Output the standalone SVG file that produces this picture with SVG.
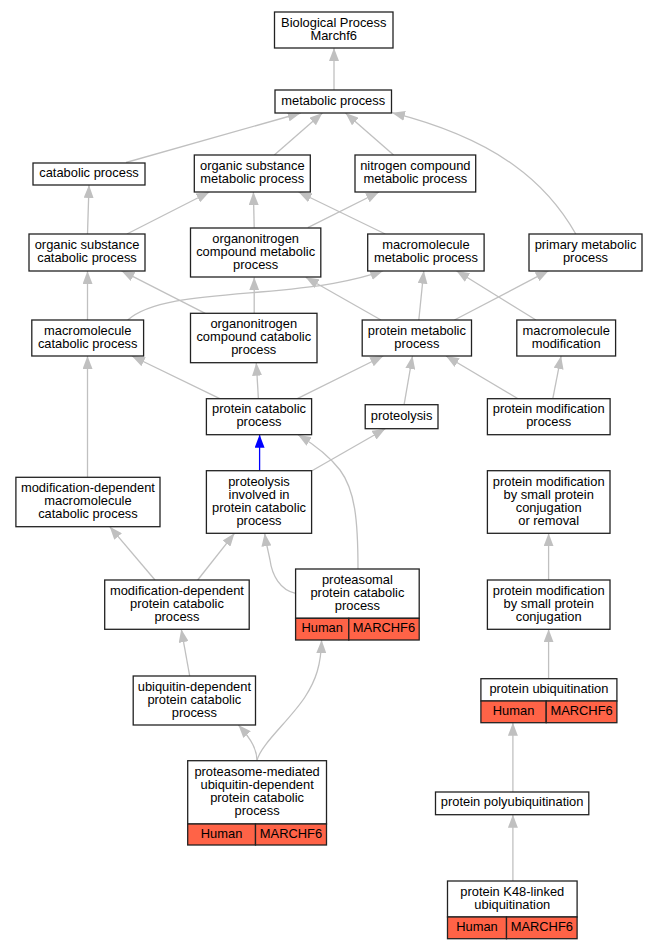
<svg xmlns="http://www.w3.org/2000/svg" width="657" height="949" viewBox="0 0 657 949">
<style>
.n rect{fill:#fff;stroke:#222;stroke-width:1.3}
.n rect.g{fill:#ff6347}
text{font-family:"Liberation Sans",Arial,Helvetica,sans-serif;font-size:12.9px;text-anchor:middle;fill:#000}
.e path{fill:none;stroke:#c0c0c0;stroke-width:1.3;marker-end:url(#a)}
.e path.b{stroke:#0000ff;marker-end:url(#ab)}
</style>
<defs>
<marker id="a" viewBox="0 0 13 10" refX="13" refY="5" markerWidth="13" markerHeight="10" markerUnits="userSpaceOnUse" orient="auto"><path d="M0,0L13,5L0,10z" fill="#c0c0c0"/></marker>
<marker id="ab" viewBox="0 0 13 10" refX="13" refY="5" markerWidth="13" markerHeight="10" markerUnits="userSpaceOnUse" orient="auto"><path d="M0,0L13,5L0,10z" fill="#0000ff"/></marker>
</defs>
<rect width="657" height="949" fill="#fff"/>
<g id="connectors" class="e">
<path d="M334,90L334,48"/>
<path d="M126,162.5L300.7,113"/>
<path d="M274.3,155L322.4,113"/>
<path d="M393.6,155L345.5,113"/>
<path d="M575.8,234C548,185 500,140 392,112.7"/>
<path d="M87.5,234L89,185"/>
<path d="M126.9,234L209.4,192"/>
<path d="M254.2,227.7L253.4,192"/>
<path d="M385.3,234L298.6,192"/>
<path d="M307.8,227.7L379,192"/>
<path d="M87.5,320L87.5,271"/>
<path d="M127.7,320C150,300 200,297 260,292C320,287 355,281 383.2,270.7"/>
<path d="M205.2,313.3L121.4,270.7"/>
<path d="M254.2,313.3L254.2,277.3"/>
<path d="M381,320L305.7,277.3"/>
<path d="M418.8,320L423.8,270.7"/>
<path d="M454.4,320L548.6,270.7"/>
<path d="M536,320L456.4,270.7"/>
<path d="M219.8,398.7L131.9,356"/>
<path d="M258.4,398.7L256.3,362.7"/>
<path d="M297.3,398.7L383.2,356"/>
<path d="M404.1,404.7L412.5,356"/>
<path d="M518,398.7L446,356"/>
<path d="M552.8,398.7L561.1,356"/>
<path d="M87.5,477.3L87.5,356"/>
<path class="b" d="M259.6,470.7L259.6,434.7"/>
<path d="M312,470.7L385.3,428.7"/>
<path d="M358,569C358,520 355,490 340,470C330,457 315,445 298,434.7"/>
<path d="M155,580L109.7,526.7"/>
<path d="M197.7,580L234.5,533.3"/>
<path d="M295.6,593.3C280,590 272,575 270,560C268,550 266,543 264.7,533.3"/>
<path d="M548.6,580L548.6,533.3"/>
<path d="M189.7,676L181.3,629.3"/>
<path d="M548.6,678.7L548.6,629.3"/>
<path d="M257,760.7C257,750 252,740 238.4,725"/>
<path d="M257,760.7C260,745 290,720 305,697C316,680 321,665 321.6,640"/>
<path d="M512.9,792L512.9,722.7"/>
<path d="M512.9,881L512.9,814.7"/>
</g>
<g id="bp" class="n"><rect x="274.5" y="12" width="118.5" height="36"/><text x="333.75" y="26.5">Biological Process</text><text x="333.75" y="39.5">Marchf6</text></g>
<g id="metabolic" class="n"><rect x="275" y="90" width="116.5" height="23"/><text x="333.25" y="104.5">metabolic process</text></g>
<g id="catabolic" class="n"><rect x="33" y="163" width="112" height="22"/><text x="89" y="177">catabolic process</text></g>
<g id="osm" class="n"><rect x="194.3" y="155" width="116" height="37"/><text x="252.3" y="170">organic substance</text><text x="252.3" y="183">metabolic process</text></g>
<g id="ncm" class="n"><rect x="355" y="155" width="120.7" height="37"/><text x="415.35" y="170">nitrogen compound</text><text x="415.35" y="183">metabolic process</text></g>
<g id="osc" class="n"><rect x="29" y="234" width="116" height="37"/><text x="87" y="249">organic substance</text><text x="87" y="262">catabolic process</text></g>
<g id="ocm" class="n"><rect x="190.5" y="228" width="130.3" height="49"/><text x="255.65" y="242.5">organonitrogen</text><text x="255.65" y="255.5">compound metabolic</text><text x="255.65" y="268.5">process</text></g>
<g id="mmp" class="n"><rect x="367.7" y="234" width="116.4" height="37"/><text x="425.9" y="249">macromolecule</text><text x="425.9" y="262">metabolic process</text></g>
<g id="pmp" class="n"><rect x="529" y="234" width="113" height="37"/><text x="585.5" y="249">primary metabolic</text><text x="585.5" y="262">process</text></g>
<g id="mcp" class="n"><rect x="31.8" y="320" width="111.8" height="36"/><text x="87.7" y="334.5">macromolecule</text><text x="87.7" y="347.5">catabolic process</text></g>
<g id="occ" class="n"><rect x="190.5" y="313.3" width="126.5" height="49.4"/><text x="253.75" y="328">organonitrogen</text><text x="253.75" y="341">compound catabolic</text><text x="253.75" y="354">process</text></g>
<g id="prmp" class="n"><rect x="362.2" y="320" width="109.3" height="36"/><text x="416.85" y="334.5">protein metabolic</text><text x="416.85" y="347.5">process</text></g>
<g id="mmod" class="n"><rect x="516.8" y="320" width="98.8" height="36"/><text x="566.2" y="334.5">macromolecule</text><text x="566.2" y="347.5">modification</text></g>
<g id="pcp" class="n"><rect x="206.4" y="398.7" width="105.2" height="36"/><text x="259" y="413.2">protein catabolic</text><text x="259" y="426.2">process</text></g>
<g id="prot" class="n"><rect x="365.2" y="404.7" width="72.8" height="24"/><text x="401.6" y="419.7">proteolysis</text></g>
<g id="pmodp" class="n"><rect x="487.4" y="398.7" width="122.7" height="36"/><text x="548.75" y="413.2">protein modification</text><text x="548.75" y="426.2">process</text></g>
<g id="mdmcp" class="n"><rect x="15.9" y="477.3" width="144.1" height="49.4"/><text x="87.95" y="492">modification-dependent</text><text x="87.95" y="505">macromolecule</text><text x="87.95" y="518">catabolic process</text></g>
<g id="pipcp" class="n"><rect x="206.4" y="470.7" width="105.2" height="62.6"/><text x="259" y="485.5">proteolysis</text><text x="259" y="498.5">involved in</text><text x="259" y="511.5">protein catabolic</text><text x="259" y="524.5">process</text></g>
<g id="pmscr" class="n"><rect x="487.4" y="470.7" width="122.6" height="62.6"/><text x="548.7" y="485.5">protein modification</text><text x="548.7" y="498.5">by small protein</text><text x="548.7" y="511.5">conjugation</text><text x="548.7" y="524.5">or removal</text></g>
<g id="mdpcp" class="n"><rect x="104.7" y="580" width="144.5" height="49.3"/><text x="176.95" y="594.65">modification-dependent</text><text x="176.95" y="607.65">protein catabolic</text><text x="176.95" y="620.65">process</text></g>
<g id="ppcp" class="n"><rect x="295.6" y="569" width="123.6" height="49.3"/><rect class="g" x="295.6" y="618.3" width="53.2" height="21.7"/><rect class="g" x="348.8" y="618.3" width="70.4" height="21.7"/><text x="357.4" y="583.65">proteasomal</text><text x="357.4" y="596.65">protein catabolic</text><text x="357.4" y="609.65">process</text><text x="322.2" y="632.15">Human</text><text x="384" y="632.15">MARCHF6</text></g>
<g id="pmsc" class="n"><rect x="487.4" y="580" width="122.6" height="49.3"/><text x="548.7" y="594.65">protein modification</text><text x="548.7" y="607.65">by small protein</text><text x="548.7" y="620.65">conjugation</text></g>
<g id="udpcp" class="n"><rect x="133.2" y="676" width="122.3" height="49"/><text x="194.35" y="690.5">ubiquitin-dependent</text><text x="194.35" y="703.5">protein catabolic</text><text x="194.35" y="716.5">process</text></g>
<g id="pubq" class="n"><rect x="480.9" y="678.7" width="136" height="22.3"/><rect class="g" x="480.9" y="701" width="65.3" height="21.7"/><rect class="g" x="546.2" y="701" width="70.7" height="21.7"/><text x="548.9" y="692.85">protein ubiquitination</text><text x="513.55" y="714.85">Human</text><text x="581.55" y="714.85">MARCHF6</text></g>
<g id="pmudp" class="n"><rect x="187.7" y="760.7" width="138.8" height="63.3"/><rect class="g" x="187.7" y="824" width="67.8" height="21"/><rect class="g" x="255.5" y="824" width="71" height="21"/><text x="257.1" y="775.85">proteasome-mediated</text><text x="257.1" y="788.85">ubiquitin-dependent</text><text x="257.1" y="801.85">protein catabolic</text><text x="257.1" y="814.85">process</text><text x="221.6" y="837.5">Human</text><text x="291" y="837.5">MARCHF6</text></g>
<g id="ppubq" class="n"><rect x="435.5" y="792" width="153.3" height="22.7"/><text x="512.15" y="806.35">protein polyubiquitination</text></g>
<g id="k48" class="n"><rect x="447.5" y="881" width="129.6" height="36"/><rect class="g" x="447.5" y="917" width="59" height="21.7"/><rect class="g" x="506.5" y="917" width="70.6" height="21.7"/><text x="512.3" y="895.5">protein K48-linked</text><text x="512.3" y="908.5">ubiquitination</text><text x="477" y="930.85">Human</text><text x="541.8" y="930.85">MARCHF6</text></g>
</svg>
